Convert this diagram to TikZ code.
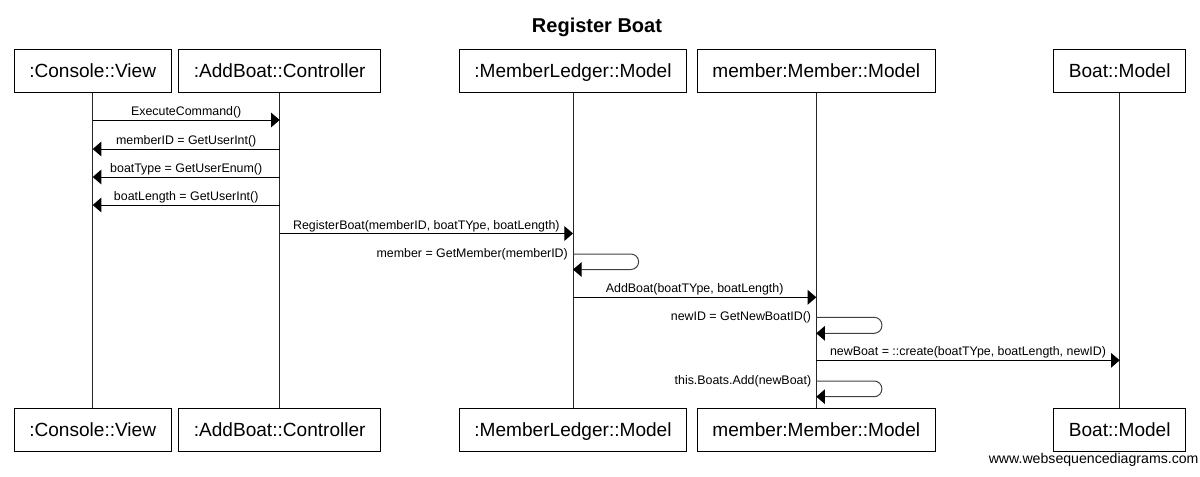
\documentclass[tikz,border=0pt]{standalone}
\usepackage{fontspec}
\setmainfont{Liberation Sans}
\usetikzlibrary{arrows.meta}

\tikzset{every picture/.style={line width=0.75pt}}
\tikzset{
  objbox/.style={draw, fill=white, inner xsep=11.25pt, inner ysep=0pt, minimum height=32.25pt, text height=12pt, text depth=2pt, font=\fontsize{14.3}{17}\selectfont},
  lifeline/.style={draw=black!85},
  msg/.style={-{Triangle[length=6.5pt,width=11pt,color=black]}},
  selfmsg/.style={msg, draw=black!75, rounded corners=5.8pt},
  msglabel/.style={anchor=south, inner sep=1pt, font=\fontsize{9.3}{11}\selectfont},
  selflabel/.style={anchor=east, inner sep=0pt, xshift=-3.5pt, font=\fontsize{9.3}{11}\selectfont}
}

\begin{document}
\begin{tikzpicture}[x=0.75pt,y=0.75pt,yscale=-1,xscale=1]
\useasboundingbox (0,0) rectangle (1200,476);

% Title
\node[font=\fontsize{15}{18}\selectfont\bfseries] (title) at (597,27) {Register Boat};

%Shape: Rectangle (top row)
\node[objbox] (cvT) at (92.7,70.8) {:Console::View};
\node[objbox] (abT) at (279.7,70.8) {:AddBoat::Controller};
\node[objbox] (mlT) at (573,70.8) {:MemberLedger::Model};
\node[objbox] (mmT) at (816.3,70.8) {member:Member::Model};
\node[objbox] (bmT) at (1119.7,70.8) {Boat::Model};
%Shape: Rectangle (bottom row)
\node[objbox] (cvB) at (92.7,429.9) {:Console::View};
\node[objbox] (abB) at (279.7,429.9) {:AddBoat::Controller};
\node[objbox] (mlB) at (573,429.9) {:MemberLedger::Model};
\node[objbox] (mmB) at (816.3,429.9) {member:Member::Model};
\node[objbox] (bmB) at (1119.7,429.9) {Boat::Model};

%Straight Lines (lifelines)
\draw[lifeline] (cvT) -- (cvB);
\draw[lifeline] (abT) -- (abB);
\draw[lifeline] (mlT) -- (mlB);
\draw[lifeline] (mmT) -- (mmB);
\draw[lifeline] (bmT) -- (bmB);

% message ends on the lifelines
\coordinate (cv1) at (92.7,120);   \coordinate (ab1) at (279.7,120);
\coordinate (cv2) at (92.7,149);   \coordinate (ab2) at (279.7,149);
\coordinate (cv3) at (92.7,177);   \coordinate (ab3) at (279.7,177);
\coordinate (cv4) at (92.7,205);   \coordinate (ab4) at (279.7,205);
\coordinate (ab5) at (279.7,233.5); \coordinate (ml5) at (573,233.5);
\coordinate (ml6a) at (573,254);   \coordinate (ml6b) at (573,269.5);
\coordinate (ml7) at (573,297.3);  \coordinate (mm7) at (816.3,297.3);
\coordinate (mm8a) at (816.3,317.3); \coordinate (mm8b) at (816.3,333.3);
\coordinate (mm9) at (816.3,360.3); \coordinate (bm9) at (1119.7,360.3);
\coordinate (mm10a) at (816.3,381); \coordinate (mm10b) at (816.3,396.7);

%Straight Lines (messages)
\draw[msg] (cv1) -- node[msglabel] {ExecuteCommand()} (ab1);
\draw[msg] (ab2) -- node[msglabel] {memberID = GetUserInt()} (cv2);
\draw[msg] (ab3) -- node[msglabel] {boatType = GetUserEnum()} (cv3);
\draw[msg] (ab4) -- node[msglabel] {boatLength = GetUserInt()} (cv4);
\draw[msg] (ab5) -- node[msglabel] {RegisterBoat(memberID, boatTYpe, boatLength)} (ml5);
\draw[selfmsg] (ml6a) -| ++(65.6,15.5) -- (ml6b);
\draw[msg] (ml7) -- node[msglabel] {AddBoat(boatTYpe, boatLength)} (mm7);
\draw[selfmsg] (mm8a) -| ++(65.6,16) -- (mm8b);
\draw[msg] (mm9) -- node[msglabel] {newBoat = ::create(boatTYpe, boatLength, newID)} (bm9);
\draw[selfmsg] (mm10a) -| ++(65.6,15.7) -- (mm10b);

% Text Node
\node[selflabel] (lbl6) at (ml6a) {member = GetMember(memberID)};
% Text Node
\node[selflabel] (lbl8) at (mm8a) {newID = GetNewBoatID()};
% Text Node
\node[selflabel] (lbl10) at (mm10a) {this.Boats.Add(newBoat)};

% Text Node
\node[anchor=east, inner sep=0pt, font=\fontsize{10.6}{12}\selectfont] (wsd) at (1199,460) {www.websequencediagrams.com};

\end{tikzpicture}
\end{document}
